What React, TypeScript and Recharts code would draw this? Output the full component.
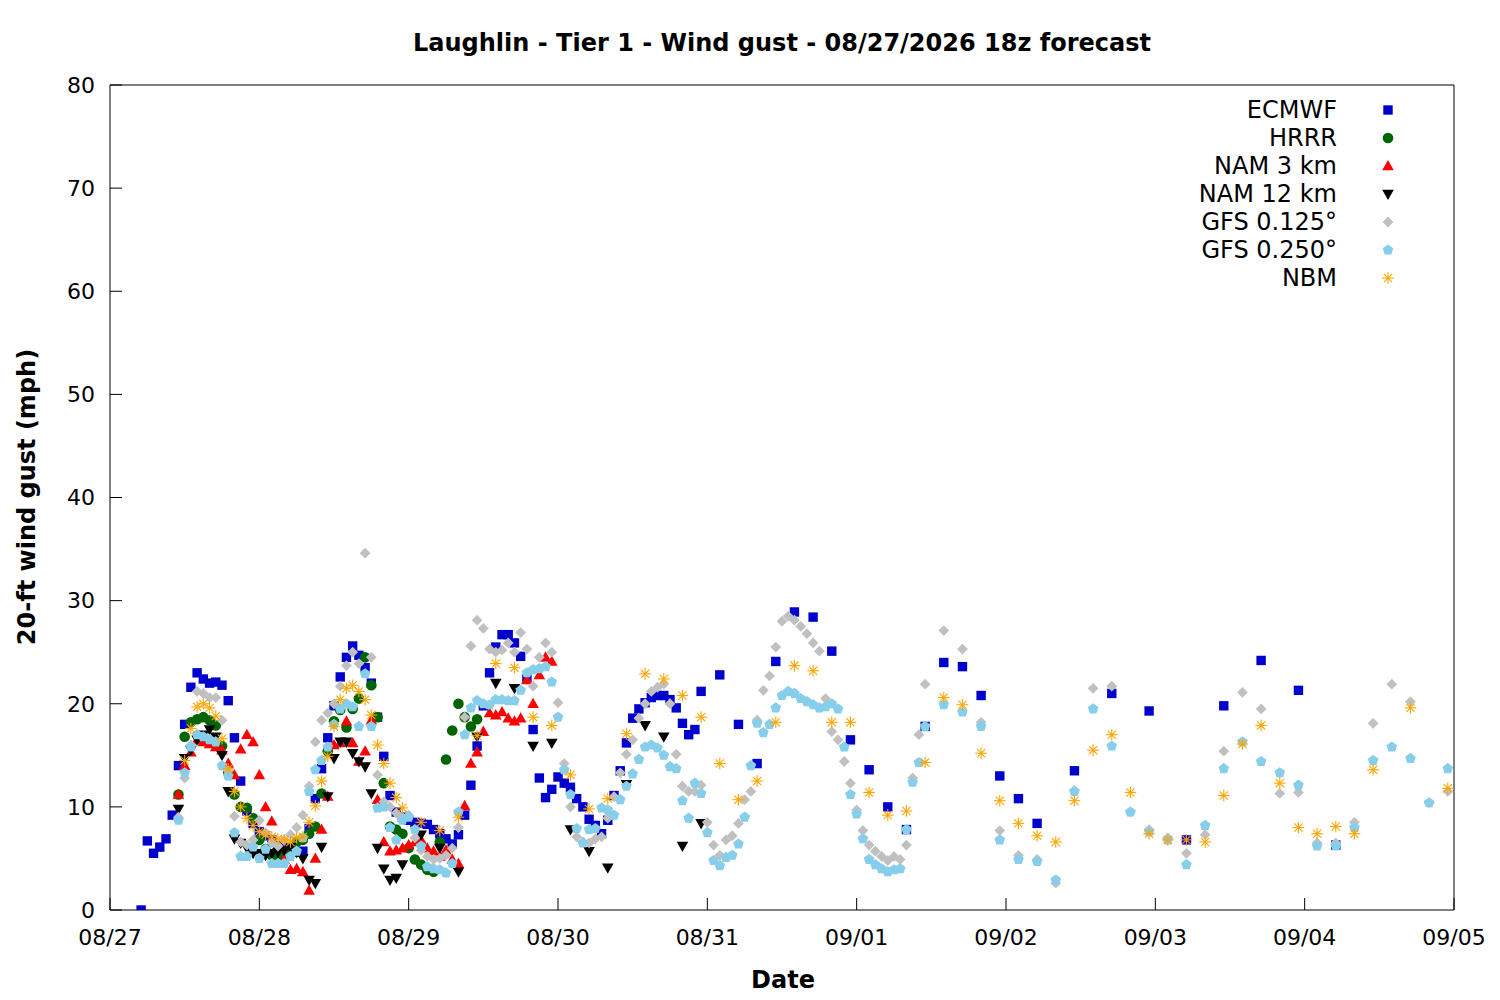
import React from 'react';
import { ScatterChart, Scatter, XAxis, YAxis, Legend } from 'recharts';

// ---- data: [hours since 08/27 00 local, wind gust mph] ----
const ECMWF: [number, number][] = [
  [5,0],[6,6.7],[7,5.5],[8,6.1],[9,6.9],[10,9.2],[11,14.0],[12,18.0],[13,21.6],[14,23.0],[15,22.4],[16,22.0],[17,22.1],[18,21.8],[19,20.3],[20,16.7],[21,12.5],[22,9.6],[23,8.4],[24,7.6],[25,7.2],[26,6.8],[27,6.2],[28,5.9],[29,5.8],[30,5.6],[31,5.7],[32,7.9],[33,10.8],[34,13.7],[35,16.7],[36,19.8],[37,22.6],[38,24.5],[39,25.6],[40,24.7],[41,23.5],[42,22.0],[43,18.7],[44,14.9],[45,11.1],[46,9.5],[47,9.0],[48,8.7],[49,8.5],[50,8.4],[51,8.3],[52,7.8],[53,7.4],[54,6.9],[55,6.4],[56,7.3],[57,9.2],[58,12.1],[59,15.9],[60,19.8],[61,23.0],[62,25.5],[63,26.7],[64,26.7],[65,25.9],[66,24.6],[67,22.4],[68,17.5],[69,12.8],[70,10.9],[71,11.7],[72,12.9],[73,12.3],[74,11.9],[75,10.8],[76,10.0],[77,8.8],[78,8.2],[79,7.4],[80,8.7],[81,11.1],[82,13.5],[83,16.2],[84,18.6],[85,19.5],[86,20.1],[87,20.6],[88,20.8],[89,20.8],[90,20.4],[91,19.6],[92,18.1],[93,17.0],[94,17.5],[95,21.2],[98,22.8],[101,18.0],[104,14.2],[107,24.1],[110,28.9],[113,28.4],[116,25.1],[119,16.5],[122,13.6],[125,10.0],[128,7.8],[131,17.8],[134,24.0],[137,23.6],[140,20.8],[143,13.0],[146,10.8],[149,8.4],[155,13.5],[161,21.0],[167,19.3],[173,6.8],[179,19.8],[185,24.2],[191,21.3],[197,6.3],
];

const HRRR: [number, number][] = [
  [11,11.2],[12,16.8],[13,18.2],[14,18.5],[15,18.7],[16,18.4],[17,17.9],[18,15.9],[19,13.3],[20,11.2],[21,10.0],[22,9.9],[23,8.9],[24,6.8],[25,5.9],[26,5.3],[27,5.2],[28,5.3],[29,5.6],[30,6.6],[31,6.8],[32,7.4],[33,8.1],[34,11.3],[35,15.4],[36,18.3],[37,19.4],[38,17.7],[39,19.5],[40,20.5],[41,24.5],[42,21.8],[43,18.7],[44,12.3],[45,8.1],[46,7.8],[47,7.4],[48,6.0],[49,4.9],[50,4.4],[51,3.9],[52,3.7],[53,6.6],[54,14.6],[55,17.4],[56,20.0],[57,18.7],[58,17.8],[59,18.5],
];

const NAM3: [number, number][] = [
  [11,11.2],[12,14.0],[13,15.3],[14,16.5],[15,16.3],[16,16.1],[17,15.8],[18,15.5],[19,14.2],[20,13.1],[21,15.6],[22,17.0],[23,16.3],[24,13.1],[25,10.0],[26,8.6],[27,6.0],[28,4.9],[29,3.9],[30,4.0],[31,3.7],[32,1.9],[33,5.0],[34,7.8],[35,11.0],[36,16.0],[37,16.2],[38,18.3],[39,16.2],[40,14.4],[41,15.4],[42,18.4],[43,10.7],[44,6.6],[45,5.7],[46,5.8],[47,6.0],[48,6.3],[49,6.6],[50,6.8],[51,6.0],[52,5.7],[53,5.2],[54,5.8],[55,4.9],[56,4.5],[57,10.1],[58,14.2],[59,15.3],[60,17.3],[61,19.1],[62,18.9],[63,19.2],[64,18.6],[65,18.3],[66,18.6],[67,22.3],[68,20.0],[69,22.8],[70,24.5],[71,24.1],
];

const NAM12: [number, number][] = [
  [11,9.8],[12,14.7],[13,15.5],[14,16.5],[15,17.0],[16,17.5],[17,16.8],[18,15.0],[19,11.5],[20,6.9],[21,6.5],[22,6.0],[23,5.5],[24,5.5],[25,5.3],[26,5.5],[27,5.6],[28,5.8],[29,6.1],[30,5.6],[31,5.0],[32,2.9],[33,2.6],[34,6.1],[35,11.0],[36,14.7],[37,16.3],[38,16.3],[39,15.2],[40,14.4],[41,13.9],[42,11.3],[43,6.0],[44,4.0],[45,2.9],[46,3.1],[47,4.4],[50,7.3],[53,6.0],[56,3.7],[59,16.8],[62,22.0],[65,21.5],[68,15.9],[71,16.2],[74,7.8],[77,5.7],[80,4.1],[83,12.2],[86,17.9],[89,16.8],[92,6.2],[95,8.4],
];

const GFS125: [number, number][] = [
  [11,9.0],[12,12.8],[13,16.0],[14,21.2],[15,21.0],[16,20.6],[17,20.6],[18,18.4],[19,13.5],[20,9.1],[21,6.6],[22,6.3],[23,6.8],[24,8.7],[25,7.5],[26,6.5],[27,6.2],[28,6.8],[29,7.3],[30,8.0],[31,9.2],[32,12.0],[33,16.3],[34,18.4],[35,19.1],[36,20.0],[37,21.7],[38,23.7],[39,25.0],[40,23.9],[41,34.6],[42,24.5],[43,13.1],[44,10.5],[45,10.0],[46,9.4],[47,9.0],[48,9.2],[49,7.0],[50,5.8],[51,5.2],[52,4.9],[53,5.0],[54,5.3],[55,6.0],[56,8.0],[57,18.7],[58,25.6],[59,28.1],[60,27.3],[61,25.3],[62,25.0],[63,25.2],[64,25.9],[65,25.0],[66,26.9],[67,25.3],[68,21.7],[69,24.5],[70,25.9],[71,25.0],[72,20.1],[73,14.2],[74,10.0],[75,7.1],[76,6.6],[77,6.5],[78,6.9],[79,7.1],[80,8.9],[81,11.0],[82,13.3],[83,15.1],[84,16.5],[85,18.6],[86,20.0],[87,21.2],[88,21.6],[89,21.9],[90,20.0],[91,15.1],[92,12.0],[93,11.5],[94,11.5],[95,12.1],[96,8.5],[97,6.3],[98,5.3],[99,6.8],[100,7.2],[101,8.4],[102,10.7],[103,11.5],[104,18.4],[105,21.3],[106,22.7],[107,25.5],[108,28.0],[109,28.5],[110,28.1],[111,27.5],[112,26.8],[113,25.9],[114,25.1],[115,20.5],[116,17.3],[117,16.5],[118,14.4],[119,12.3],[120,9.7],[121,7.7],[122,6.3],[123,5.7],[124,5.2],[125,4.8],[126,5.2],[127,4.9],[128,6.3],[129,12.8],[130,17.0],[131,21.9],[134,27.1],[137,25.3],[140,18.2],[143,7.7],[146,5.3],[149,4.9],[152,2.6],[155,11.6],[158,21.5],[161,21.7],[164,9.5],[167,7.8],[170,7.0],[173,5.5],[176,7.3],[179,15.4],[182,21.1],[185,19.5],[188,11.3],[191,11.4],[194,6.5],[197,6.5],[200,8.5],[203,18.1],[206,21.9],[209,20.2],[212,10.4],[215,11.5],
];

const GFS250: [number, number][] = [
  [11,8.7],[12,13.3],[13,15.8],[14,17.0],[15,16.8],[16,16.5],[17,16.3],[18,14.0],[19,13.0],[20,7.5],[21,5.2],[22,5.2],[23,6.1],[24,5.0],[25,5.9],[26,4.5],[27,4.5],[28,4.5],[29,5.2],[30,5.7],[31,7.0],[32,11.5],[33,13.6],[34,14.5],[35,15.8],[36,18.0],[37,19.5],[38,20.0],[39,19.7],[40,17.8],[41,22.9],[42,17.8],[43,9.9],[44,10.0],[45,8.0],[46,6.8],[47,8.7],[48,9.0],[49,7.8],[50,6.2],[51,4.2],[52,4.0],[53,3.9],[54,3.6],[55,4.5],[56,9.5],[57,17.0],[58,19.6],[59,20.3],[60,20.0],[61,19.9],[62,20.4],[63,20.4],[64,20.3],[65,20.3],[66,21.3],[67,23.0],[68,23.3],[69,23.4],[70,23.6],[71,22.1],[72,18.7],[73,13.6],[74,11.2],[75,7.9],[76,6.5],[77,7.8],[78,7.9],[79,9.9],[80,9.7],[81,9.2],[82,10.7],[83,12.0],[84,13.2],[85,14.6],[86,15.8],[87,16.0],[88,15.7],[89,15.0],[90,13.9],[91,13.7],[92,10.6],[93,8.9],[94,12.3],[95,11.3],[96,7.5],[97,4.8],[98,4.3],[99,5.1],[100,5.3],[101,6.4],[102,9.0],[103,14.0],[104,18.1],[105,17.2],[106,18.0],[107,19.6],[108,20.8],[109,21.2],[110,21.0],[111,20.5],[112,20.2],[113,19.9],[114,19.6],[115,19.7],[116,20.0],[117,19.5],[118,15.8],[119,11.2],[120,9.3],[121,6.9],[122,4.9],[123,4.4],[124,4.0],[125,3.7],[126,3.9],[127,4.0],[128,7.8],[129,12.4],[130,14.3],[131,17.8],[134,19.9],[137,19.2],[140,17.8],[143,6.8],[146,4.9],[149,4.7],[152,2.9],[155,11.5],[158,19.5],[161,15.9],[164,9.5],[167,7.6],[170,6.8],[173,4.4],[176,8.2],[179,13.7],[182,16.3],[185,14.4],[188,13.3],[191,12.1],[194,6.2],[197,6.2],[200,8.0],[203,14.5],[206,15.8],[209,14.7],[212,10.4],[215,13.7],
];

const NBM: [number, number][] = [
  [12,14.5],[13,17.6],[14,19.7],[15,20.0],[16,19.6],[17,18.8],[18,16.6],[19,13.7],[20,11.5],[21,10.0],[22,8.9],[23,8.2],[24,7.6],[25,7.3],[26,7.1],[27,6.9],[28,6.8],[29,6.6],[30,7.0],[31,7.1],[32,8.5],[33,10.1],[34,12.5],[35,14.9],[36,17.8],[37,20.4],[38,21.5],[39,21.8],[40,21.2],[41,20.4],[42,18.9],[43,16.0],[44,14.2],[45,12.3],[46,10.9],[47,9.9],[50,8.5],[53,7.7],[56,9.0],[59,16.9],[62,23.9],[65,23.5],[68,18.7],[71,17.9],[74,13.1],[77,9.8],[80,10.8],[83,17.1],[86,22.9],[89,22.4],[92,20.8],[95,18.7],[98,14.2],[101,10.7],[104,12.5],[107,18.2],[110,23.7],[113,23.2],[116,18.2],[119,18.2],[122,11.4],[125,9.2],[128,9.6],[131,14.3],[134,20.6],[137,19.9],[140,15.2],[143,10.6],[146,8.4],[149,7.2],[152,6.6],[155,10.6],[158,15.5],[161,17.0],[164,11.4],[167,7.4],[170,6.8],[173,6.8],[176,6.6],[179,11.1],[182,16.1],[185,17.9],[188,12.3],[191,8.0],[194,7.4],[197,8.1],[200,7.4],[203,13.6],[209,19.6],[215,11.8],
];

const X_TICKS = [0, 24, 48, 72, 96, 120, 144, 168, 192, 216];
const X_LABELS = ['08/27', '08/28', '08/29', '08/30', '08/31', '09/01', '09/02', '09/03', '09/04', '09/05'];
const Y_TICKS = [0, 10, 20, 30, 40, 50, 60, 70, 80];

const SERIES = [
  { name: 'ECMWF', data: ECMWF, kind: 'square', color: '#0000cc' },
  { name: 'HRRR', data: HRRR, kind: 'circle', color: '#006400' },
  { name: 'NAM 3 km', data: NAM3, kind: 'up', color: '#ff0000' },
  { name: 'NAM 12 km', data: NAM12, kind: 'down', color: '#000000' },
  { name: 'GFS 0.125°', data: GFS125, kind: 'diamond', color: '#c0c0c0' },
  { name: 'GFS 0.250°', data: GFS250, kind: 'pentagon', color: '#87ceeb' },
  { name: 'NBM', data: NBM, kind: 'star', color: '#ffa500' },
];

const FONT = '"DejaVu Sans", sans-serif';

function marker(kind: string, color: string, cx: number, cy: number, key?: string) {
  switch (kind) {
    case 'square':
      return <rect key={key} x={cx - 4.7} y={cy - 4.7} width={9.4} height={9.4} fill={color} />;
    case 'circle':
      return <circle key={key} cx={cx} cy={cy} r={5.3} fill={color} />;
    case 'up':
      return <polygon key={key} points={`${cx},${cy - 6} ${cx + 5.8},${cy + 4.3} ${cx - 5.8},${cy + 4.3}`} fill={color} />;
    case 'down':
      return <polygon key={key} points={`${cx},${cy + 6} ${cx + 5.8},${cy - 4.3} ${cx - 5.8},${cy - 4.3}`} fill={color} />;
    case 'diamond':
      return <polygon key={key} points={`${cx},${cy - 5.4} ${cx + 5.4},${cy} ${cx},${cy + 5.4} ${cx - 5.4},${cy}`} fill={color} />;
    case 'pentagon': {
      const pts: string[] = [];
      for (let i = 0; i < 5; i++) {
        const a = -Math.PI / 2 + (i * 2 * Math.PI) / 5;
        pts.push(`${cx + 5.6 * Math.cos(a)},${cy + 5.6 * Math.sin(a)}`);
      }
      return <polygon key={key} points={pts.join(' ')} fill={color} />;
    }
    case 'star':
    default: {
      const r = 5.8;
      const d = r * 0.7071;
      return (
        <g key={key} stroke={color} strokeWidth={1.1}>
          <line x1={cx - r} y1={cy} x2={cx + r} y2={cy} />
          <line x1={cx} y1={cy - r} x2={cx} y2={cy + r} />
          <line x1={cx - d} y1={cy - d} x2={cx + d} y2={cy + d} />
          <line x1={cx - d} y1={cy + d} x2={cx + d} y2={cy - d} />
        </g>
      );
    }
  }
}

function LegendBox() {
  return (
    <div style={{ position: 'relative', width: 360, height: 200, fontFamily: FONT }}>
      {SERIES.map((s, i) => (
        <div key={s.name} style={{ position: 'absolute', left: 0, top: i * 28, width: 360, height: 28 }}>
          <div style={{ position: 'absolute', left: 0, top: 0, width: 287, textAlign: 'right', fontSize: 24, lineHeight: '28px', color: '#000', whiteSpace: 'nowrap' }}>
            {s.name}
          </div>
          <svg style={{ position: 'absolute', left: 328, top: 4 }} width={20} height={20}>
            {marker(s.kind, s.color, 10, 10)}
          </svg>
        </div>
      ))}
    </div>
  );
}

export default function App() {
  const tickStyle = { fill: '#000', fontSize: 22, fontFamily: FONT };
  return (
    <div style={{ position: 'absolute', left: 0, top: 0, width: 1500, height: 1000, background: '#fff', fontFamily: FONT }}>
      <div style={{ position: 'absolute', left: 282, top: 29, width: 1000, textAlign: 'center', fontWeight: 'bold', fontSize: 24, lineHeight: '28px', color: '#000', whiteSpace: 'nowrap' }}>
        Laughlin - Tier 1 - Wind gust - 08/27/2026 18z forecast
      </div>
      <div style={{ position: 'absolute', left: 583, top: 966, width: 400, textAlign: 'center', fontWeight: 'bold', fontSize: 24, lineHeight: '28px', color: '#000' }}>
        Date
      </div>
      <div style={{ position: 'absolute', left: 27 - 200, top: 497 - 14, width: 400, height: 28, textAlign: 'center', fontWeight: 'bold', fontSize: 24, lineHeight: '28px', color: '#000', transform: 'rotate(-90deg)', whiteSpace: 'nowrap' }}>
        20-ft wind gust (mph)
      </div>
      <ScatterChart width={1500} height={1000} margin={{ top: 84, right: 45, bottom: 0, left: 0 }}>
        <XAxis
          xAxisId={0}
          dataKey="x"
          type="number"
          domain={[0, 216]}
          ticks={X_TICKS}
          interval={0}
          allowDataOverflow
          height={90}
          tickSize={-12}
          tickMargin={31}
          tick={tickStyle}
          tickFormatter={(v: number) => X_LABELS[X_TICKS.indexOf(v)] ?? ''}
          axisLine={{ stroke: '#000' }}
          tickLine={{ stroke: '#000' }}
        />
        <XAxis
          xAxisId="top"
          orientation="top"
          dataKey="x"
          type="number"
          domain={[0, 216]}
          ticks={X_TICKS}
          interval={0}
          allowDataOverflow
          height={1}
          tickSize={-12}
          tick={false}
          axisLine={{ stroke: '#000' }}
          tickLine={{ stroke: '#000' }}
        />
        <YAxis
          yAxisId={0}
          dataKey="y"
          type="number"
          domain={[0, 80]}
          ticks={Y_TICKS}
          interval={0}
          allowDataOverflow
          width={110}
          tickSize={-12}
          tickMargin={27}
          tick={tickStyle}
          axisLine={{ stroke: '#000' }}
          tickLine={{ stroke: '#000' }}
        />
        <YAxis
          yAxisId="right"
          orientation="right"
          dataKey="y"
          type="number"
          domain={[0, 80]}
          ticks={Y_TICKS}
          interval={0}
          allowDataOverflow
          width={1}
          tickSize={-12}
          tick={false}
          axisLine={{ stroke: '#000' }}
          tickLine={{ stroke: '#000' }}
        />
        {SERIES.map((s) => (
          <Scatter
            key={s.name}
            name={s.name}
            xAxisId={0}
            yAxisId={0}
            data={s.data.map(([x, y]) => ({ x, y }))}
            fill={s.color}
            isAnimationActive={false}
            shape={(p: any) => marker(s.kind, s.color, p.cx, p.cy)}
          />
        ))}
        <Legend
          layout="vertical"
          align="center"
          verticalAlign="middle"
          wrapperStyle={{ top: 96, left: 1050, width: 360, height: 200 }}
          content={() => <LegendBox />}
        />
      </ScatterChart>
    </div>
  );
}
